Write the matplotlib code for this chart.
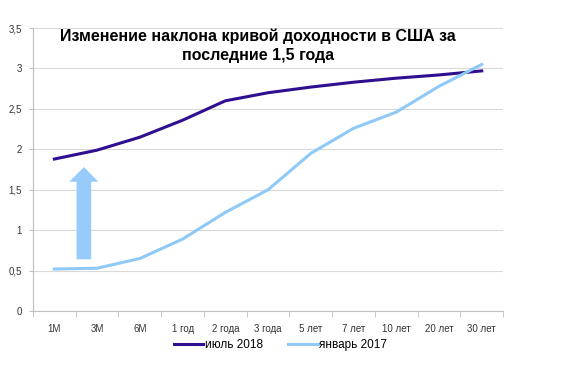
import matplotlib
matplotlib.use('Agg')
import matplotlib.pyplot as plt
import numpy as np

plt.rcParams['font.family'] = ['Liberation Sans', 'DejaVu Sans']

categories = ['1M', '3M', '6M', '1 год', '2 года', '3 года', '5 лет', '7 лет', '10 лет', '20 лет', '30 лет']
jul2018 = [1.88, 1.99, 2.15, 2.36, 2.60, 2.70, 2.77, 2.83, 2.88, 2.92, 2.97]
jan2017 = [0.52, 0.53, 0.65, 0.89, 1.22, 1.50, 1.95, 2.26, 2.46, 2.78, 3.05]
yticks = [0, 0.5, 1, 1.5, 2, 2.5, 3, 3.5]
ytick_labels = ['0', '0,5', '1', '1,5', '2', '2,5', '3', '3,5']

fig = plt.figure(figsize=(5.61, 3.69), dpi=100)
ax = fig.add_axes([0.0588, 0.157, 0.838, 0.767])

x = np.arange(len(categories))
ax.plot(x, jul2018, color='#2E0F8F', lw=2.2, label='июль 2018', zorder=3)
ax.plot(x, jan2017, color='#8EC9F7', lw=2.2, label='январь 2017', zorder=3)

# arrow showing the shift
ax.annotate('', xy=(0.69, 1.78), xytext=(0.69, 0.64),
            arrowprops=dict(arrowstyle='simple,head_length=1.05,head_width=2.1,tail_width=1.05',
                            color='#97CBFA', lw=0, shrinkA=0, shrinkB=0))

ax.set_xlim(-0.5, len(categories) - 0.5)
ax.set_ylim(0, 3.5)
ax.set_yticks(yticks)
ax.set_yticklabels(ytick_labels)
ax.set_xticks(x)
ax.set_xticklabels(categories)
ax.set_xticks(np.arange(-0.5, len(categories)), minor=True)
ax.tick_params(axis='x', which='major', length=0, pad=9, labelsize=7, colors='#333333')
ax.tick_params(axis='x', which='minor', length=4, color='#BFBFBF', direction='out')
ax.tick_params(axis='y', length=3, color='#BFBFBF', labelsize=7, colors='#333333', pad=5)

ax.grid(axis='y', color='#D9D9D9', lw=0.8, zorder=0)
for s in ['top', 'right']:
    ax.spines[s].set_visible(False)
ax.spines['left'].set_color('#BFBFBF')
ax.spines['bottom'].set_color('#BFBFBF')

ax.text(0.479, 1.0, 'Изменение наклона кривой доходности в США за\nпоследние 1,5 года',
        transform=ax.transAxes, ha='center', va='top', fontsize=11.5,
        fontweight='bold', linespacing=1.4)

fig.legend(loc='center', bbox_to_anchor=(0.5, 0.065), ncol=2, frameon=False,
           fontsize=8.5, handlelength=2.5, handletextpad=0.1, columnspacing=2.2)

fig.savefig('out.png', dpi=100)
